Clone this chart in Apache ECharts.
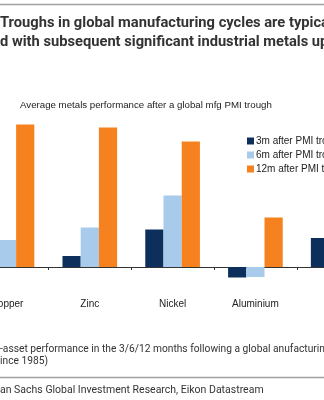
<!DOCTYPE html>
<html>
<head>
<meta charset="utf-8">
<script src="https://cdn.jsdelivr.net/npm/echarts@6/dist/echarts.min.js"></script>
<style>
  html, body { margin: 0; padding: 0; background: #fff; }
  #chart { width: 324px; height: 400px; }
</style>
</head>
<body>
<div id="chart"></div>
<script>
// Average metals performance (%) after a global manufacturing PMI trough
const metals = ['Copper', 'Zinc', 'Nickel', 'Aluminium', 'Lead'];
const seriesNames = ['3m after PMI trough', '6m after PMI trough', '12m after PMI trough'];
const perf3m = [4.0, 2.2, 7.5, -2.1, 5.8];
const perf6m = [5.4, 7.9, 14.3, -2.0, 9.0];
const perf12m = [28.5, 27.9, 25.1, 9.9, 20.0];
const seriesColors = ['#0c2f5c', '#a8cbeb', '#f5821f'];

const narrow = '"Liberation Sans Narrow", "Roboto", "Liberation Sans", sans-serif';
const sans = '"Liberation Sans", Arial, sans-serif';

const chart = echarts.init(document.getElementById('chart'));

const values = [perf3m, perf6m, perf12m];

chart.setOption({
  animation: false,
  backgroundColor: '#fff',
  grid: {
    left: -34.4, width: 414, top: 92, bottom: 108,
    containLabel: false, outerBoundsMode: 'none'
  },
  xAxis: {
    type: 'category',
    data: metals,
    axisLine: { show: true, onZero: true, lineStyle: { color: '#333', width: 1 } },
    axisTick: { show: true, length: 3, lineStyle: { color: '#333' } },
    axisLabel: { margin: 7, fontSize: 10, color: '#222', fontFamily: sans }
  },
  yAxis: {
    type: 'value',
    min: -5,
    max: 35,
    interval: 5,
    show: false,
    splitLine: { show: false }
  },
  legend: {
    orient: 'vertical',
    left: 242,
    top: 131,
    itemWidth: 7,
    itemHeight: 7,
    itemGap: 4,
    icon: 'rect',
    textStyle: { fontSize: 10, color: '#222', fontFamily: sans, padding: [0, 0, 0, -3] },
    data: seriesNames
  },
  series: seriesNames.map((name, i) => ({
    name: name,
    type: 'bar',
    data: values[i],
    barGap: '0%',
    barCategoryGap: '34%',
    itemStyle: { color: seriesColors[i] }
  })),
  graphic: [
    { type: 'line', shape: { x1: 0, y1: 4.5, x2: 324, y2: 4.5 }, style: { stroke: '#a0a0a0', lineWidth: 1.5 } },
    { type: 'text', left: 0, top: 16, style: { text: 'Troughs in global manufacturing cycles are typically', fontSize: 14.7, fontWeight: 'bold', fill: '#333', fontFamily: narrow } },
    { type: 'text', left: 0, top: 35, style: { text: 'd with subsequent significant industrial metals upside', fontSize: 14.7, fontWeight: 'bold', fill: '#333', fontFamily: narrow } },
    { type: 'text', left: 20, top: 100, style: { text: 'Average metals performance after a global mfg PMI trough', fontSize: 9.7, fill: '#222', fontFamily: sans } },
    { type: 'text', left: 0, top: 344, scaleX: 0.93, style: { text: '-asset performance in the 3/6/12 months following a global anufacturing PMI trough', fontSize: 11, fill: '#333', fontFamily: narrow } },
    { type: 'text', left: 0, top: 356, scaleX: 0.93, style: { text: 'ince 1985)', fontSize: 11, fill: '#333', fontFamily: narrow } },
    { type: 'line', shape: { x1: 0, y1: 377.5, x2: 324, y2: 377.5 }, style: { stroke: '#a0a0a0', lineWidth: 1.5 } },
    { type: 'text', left: 0, top: 385, scaleX: 0.955, style: { text: 'an Sachs Global Investment Research, Eikon Datastream', fontSize: 11, fill: '#333', fontFamily: narrow } }
  ]
});
</script>
</body>
</html>
